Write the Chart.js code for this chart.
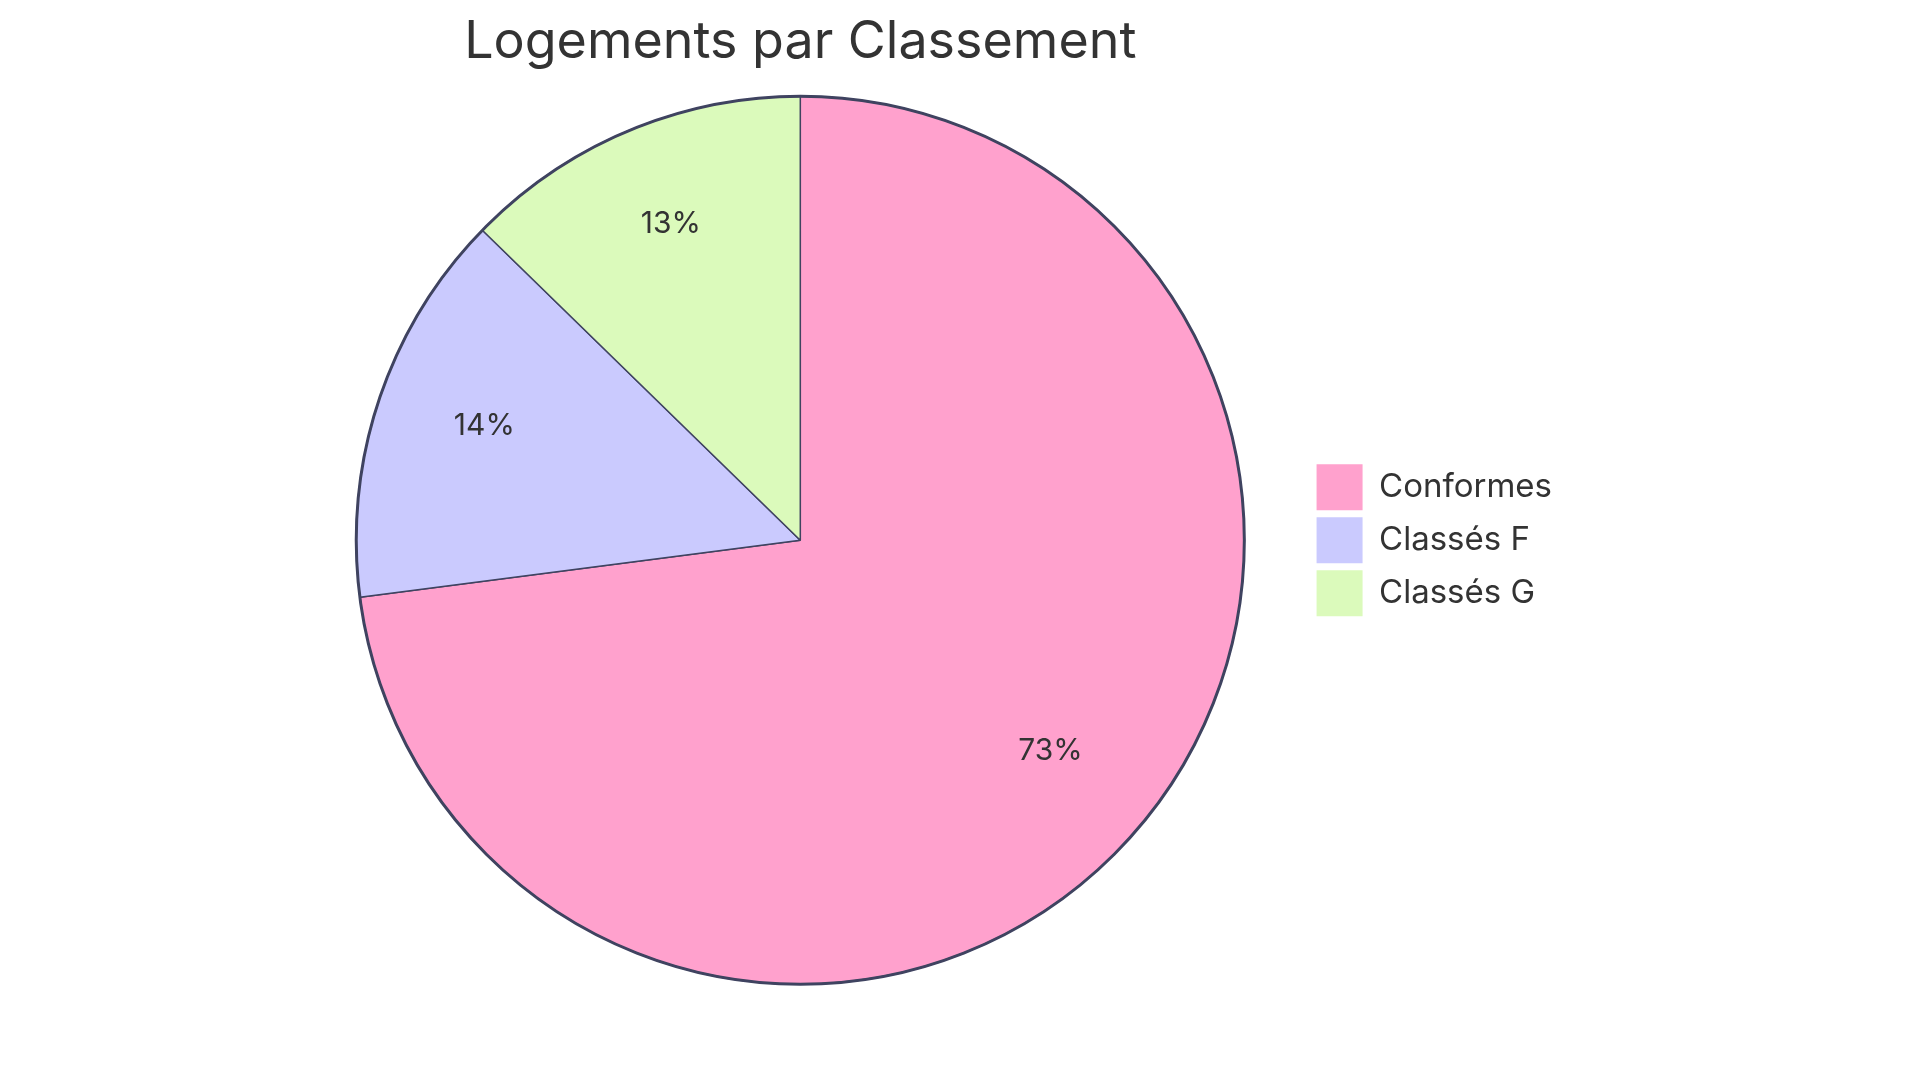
<!DOCTYPE html>
<html>
<head>
<meta charset="utf-8">
<title>Logements par Classement</title>
<script src="https://cdn.jsdelivr.net/npm/chart.js@4"></script>
<style>
  html, body { margin: 0; padding: 0; background: #fff; }
  #wrap { width: 1920px; height: 1083px; }
</style>
</head>
<body>
<div id="wrap"><canvas id="myChart" width="1920" height="1083"></canvas></div>
<script>
// data
var categories = ["Conformes", "Classés F", "Classés G"];
var values = [72.95, 14.35, 12.7];
var sliceColors = ["#ffa1cd", "#cacafe", "#dbfabb"];

var strokeColor = "#3f4360";
var textColor = "#333333";

// percent labels inside the slices, baseline sits on the 3/4 radius point
var sliceLabels = {
    id: 'sliceLabels',
    afterDatasetsDraw: function (chart) {
        var ctx = chart.ctx;
        var meta = chart.getDatasetMeta(0);
        var total = values.reduce(function (a, b) { return a + b; }, 0);
        ctx.save();
        ctx.font = '30px Inter, "Noto Sans", sans-serif';
        ctx.fillStyle = textColor;
        ctx.textAlign = 'center';
        ctx.textBaseline = 'alphabetic';
        meta.data.forEach(function (arc, i) {
            var mid = (arc.startAngle + arc.endAngle) / 2;
            var r = arc.outerRadius * 0.75;
            var pct = Math.round(values[i] / total * 100) + '%';
            ctx.fillText(pct, arc.x + Math.cos(mid) * r, arc.y + Math.sin(mid) * r);
        });
        ctx.restore();
    }
};

// thicker outline round the whole pie
var outerRing = {
    id: 'outerRing',
    afterDatasetsDraw: function (chart) {
        var arc = chart.getDatasetMeta(0).data[0];
        if (!arc) return;
        var ctx = chart.ctx;
        ctx.save();
        ctx.beginPath();
        ctx.arc(arc.x, arc.y, arc.outerRadius, 0, Math.PI * 2);
        ctx.lineWidth = 3;
        ctx.strokeStyle = strokeColor;
        ctx.stroke();
        ctx.restore();
    }
};

var ctx = document.getElementById('myChart').getContext('2d');
var chart = new Chart(ctx, {
    type: 'pie',
    data: {
        labels: categories,
        datasets: [{
            data: values,
            backgroundColor: sliceColors,
            borderColor: strokeColor,
            borderWidth: 1.5
        }]
    },
    options: {
        responsive: false,
        animation: false,
        layout: {
            padding: { left: 291, right: 358, top: 0, bottom: 98 }
        },
        plugins: {
            title: {
                display: true,
                text: 'Logements par Classement',
                fullSize: false,
                color: textColor,
                font: { family: 'Inter, "Noto Sans", sans-serif', size: 52, weight: 'normal', lineHeight: 1.2 },
                padding: { top: 11, bottom: 22 }
            },
            legend: {
                position: 'right',
                fullSize: false,
                labels: {
                    color: textColor,
                    boxWidth: 46,
                    boxHeight: 46,
                    padding: 7,
                    font: { family: 'Inter, "Noto Sans", sans-serif', size: 33 },
                    generateLabels: function (chart) {
                        // plain squares, no outline
                        return categories.map(function (c, i) {
                            return {
                                text: c,
                                fillStyle: sliceColors[i],
                                strokeStyle: sliceColors[i],
                                lineWidth: 0,
                                fontColor: textColor,
                                index: i
                            };
                        });
                    }
                }
            },
            tooltip: { enabled: false }
        }
    },
    plugins: [sliceLabels, outerRing]
});
</script>
</body>
</html>
